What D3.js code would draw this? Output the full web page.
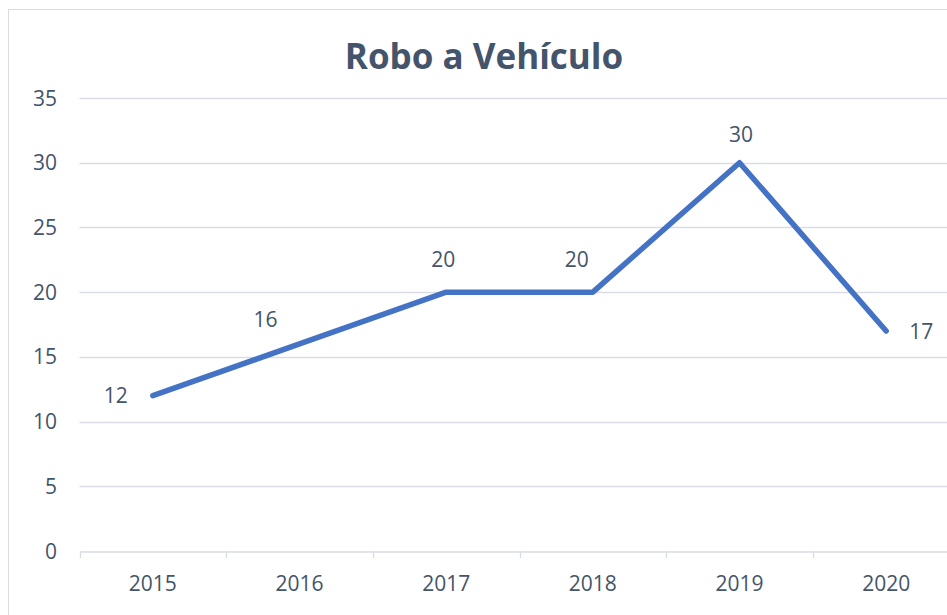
<!DOCTYPE html>
<meta charset="utf-8">
<head>
  <title>Robo a Vehículo</title>
</head>

<style>
body {
  margin: 0;
  background: #fff;
  font-family: "Open Sans", sans-serif;
}
</style>

<body>
  <div id="chart"></div>

  <script src="https://cdnjs.cloudflare.com/ajax/libs/d3/7.8.5/d3.min.js"></script>

  <script>
// data
var years = ['2015', '2016', '2017', '2018', '2019', '2020'];
var robos = [12, 16, 20, 20, 30, 17];
var yTicks = [0, 5, 10, 15, 20, 25, 30, 35];

// nudge of each data label from its point (middle anchor, baseline)
var labelNudge = [[-37, 7.5], [-34, -17], [-3, -25], [-16, -25], [1.5, -21], [35, 8]];

var width = 947, height = 615;
var textColor = '#44546a';
var gridColor = '#d9dde3';

var svg = d3.select('#chart').append('svg')
  .attr('width', width)
  .attr('height', height);

// chart frame (runs off the right and bottom of the page)
svg.append('rect')
  .attr('x', 8.5).attr('y', 9.5)
  .attr('width', 960).attr('height', 620)
  .attr('fill', '#fff')
  .attr('stroke', gridColor);

var x = d3.scaleBand()
  .domain(years)
  .range([79.5, 959.5]);

var y = d3.scaleLinear()
  .domain([0, 35])
  .range([551, 98]);

// gridlines
svg.append('g')
  .selectAll('line')
  .data(yTicks.slice(1))
  .join('line')
  .attr('x1', 79.5).attr('x2', 960)
  .attr('y1', d => Math.round(y(d)) + 0.5)
  .attr('y2', d => Math.round(y(d)) + 0.5)
  .attr('stroke', gridColor)
  .attr('stroke-width', 1.3);

// y labels
svg.append('g')
  .selectAll('text')
  .data(yTicks)
  .join('text')
  .attr('x', 57)
  .attr('y', d => y(d) + 7.5)
  .attr('text-anchor', 'end')
  .attr('fill', textColor)
  .style('font-size', '21px')
  .text(d => d);

// x axis
var xAxis = d3.axisBottom(x).tickSize(0).tickSizeOuter(0);
var gx = svg.append('g')
  .attr('transform', 'translate(0,' + (Math.round(y(0)) + 0.5) + ')')
  .call(xAxis);
gx.select('.domain').attr('stroke', gridColor).attr('stroke-width', 1.3);
gx.selectAll('.tick text')
  .attr('y', 39)
  .attr('dy', 0)
  .attr('fill', textColor)
  .style('font-family', '"Open Sans", sans-serif')
  .style('font-size', '21px');

// category boundary ticks
svg.append('g')
  .selectAll('line')
  .data(years)
  .join('line')
  .attr('x1', d => Math.round(x(d)) + 0.5)
  .attr('x2', d => Math.round(x(d)) + 0.5)
  .attr('y1', Math.round(y(0)) + 0.5)
  .attr('y2', Math.round(y(0)) + 7)
  .attr('stroke', gridColor)
  .attr('stroke-width', 1.3);

var cx = d => x(d) + x.bandwidth() / 2;

// the line
var line = d3.line()
  .x((d, i) => cx(years[i]))
  .y(d => y(d));

svg.append('path')
  .datum(robos)
  .attr('d', line)
  .attr('fill', 'none')
  .attr('stroke', '#4472c4')
  .attr('stroke-width', 5.5)
  .attr('stroke-linecap', 'round')
  .attr('stroke-linejoin', 'round');

// data labels
svg.append('g')
  .selectAll('text')
  .data(robos)
  .join('text')
  .attr('x', (d, i) => cx(years[i]) + labelNudge[i][0])
  .attr('y', (d, i) => y(d) + labelNudge[i][1])
  .attr('text-anchor', 'middle')
  .attr('fill', textColor)
  .style('font-size', '21px')
  .text(d => d);

// title
svg.append('text')
  .attr('x', 484)
  .attr('y', 69)
  .attr('text-anchor', 'middle')
  .attr('fill', textColor)
  .style('font-size', '35px')
  .style('font-weight', 'bold')
  .text('Robo a Vehículo');
  </script>
</body>
</html>
